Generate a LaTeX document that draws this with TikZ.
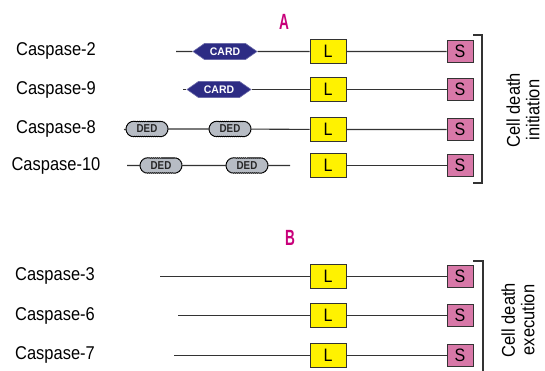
\documentclass[tikz,border=0pt]{standalone}
\usepackage{fontspec}
\setmainfont[FakeStretch=0.89]{Liberation Sans}
\newfontfamily\titlefont[FakeStretch=0.62,UprightFont={* Bold}]{Liberation Sans}
\newfontfamily\cardfont[FakeStretch=0.95,UprightFont={* Bold}]{Liberation Sans}
\newfontfamily\dedfont[FakeStretch=0.85,UprightFont={* Bold}]{Liberation Sans}
\usetikzlibrary{shapes.symbols,shapes.misc,decorations.pathmorphing}
\definecolor{lineg}{HTML}{333333}
\definecolor{lyel}{HTML}{FFF200}
\definecolor{spink}{HTML}{D878A8}
\definecolor{cardblue}{HTML}{2D2C84}
\definecolor{dedgrey}{HTML}{B7BCC4}
\definecolor{magen}{HTML}{C8007A}
\tikzset{
  lbox/.style={draw=lineg, line width=1pt, fill=lyel, minimum width=36pt, minimum height=24pt, inner sep=0pt, font=\fontsize{18}{18}\selectfont},
  sbox/.style={draw=lineg, line width=1pt, fill=spink, minimum width=26pt, minimum height=22pt, inner sep=0pt, font=\fontsize{18}{18}\selectfont},
  card/.style={signal, signal to=west and east, signal pointer angle=70, fill=cardblue, draw=cardblue!70!white, line width=0.6pt, minimum width=64pt, minimum height=16pt, inner sep=0pt, text=white, font=\cardfont\fontsize{11}{11}\selectfont},
  ded/.style={rounded rectangle, fill=dedgrey, draw=black, line width=0.9pt, minimum width=41pt, minimum height=14.5pt, inner sep=0pt, text=black!85, font=\dedfont\fontsize{11.5}{11.5}\selectfont, decorate, decoration={bumps, segment length=4pt, amplitude=0.5pt}},
  casp/.style={font=\fontsize{18.5}{18.5}\selectfont, inner sep=0pt},
  ttl/.style={font=\titlefont\fontsize{22}{22}\selectfont, text=magen, inner sep=0pt},
  side/.style={font=\fontsize{18.5}{19.5}\selectfont, align=center, rotate=90, inner sep=0pt},
  conn/.style={draw=lineg, line width=1.1pt},
  brk/.style={draw=lineg, line width=1.2pt}
}
\begin{document}
\begin{tikzpicture}[x=1pt,y=-1pt]
\useasboundingbox (0,0) rectangle (545,371);
% titles
\node[ttl] (tA) at (284,22) {A};
\node[ttl] (tB) at (290,238) {B};
% labels
\node[casp] (c2) at (56,51) {Caspase-2};
\node[casp] (c9) at (56,89.5) {Caspase-9};
\node[casp] (c8) at (56,129) {Caspase-8};
\node[casp] (c10) at (56,165.5) {Caspase-10};
\node[casp] (c3) at (55,276) {Caspase-3};
\node[casp] (c6) at (55,315.5) {Caspase-6};
\node[casp] (c7) at (55,355) {Caspase-7};
% start coordinates
\coordinate (s1) at (176,51.5);
\coordinate (s2) at (183,89.5);
\coordinate (s3) at (124,129.5);
\coordinate (s4) at (127,165.5);
\coordinate (e4) at (290,165.5);
\coordinate (s5) at (160,276.5);
\coordinate (s6) at (178,315.5);
\coordinate (s7) at (174,355.5);
% domain nodes
\node[card] (card1) at (225,51.5) {CARD};
\node[card] (card2) at (219,89.5) {CARD};
\node[ded] (d31) at (147,129) {DED};
\node[ded] (d32) at (230,129) {DED};
\node[ded] (d41) at (161,165.5) {DED};
\node[ded] (d42) at (247,165.5) {DED};
% L and S
\foreach \n/\y in {1/51.5,2/89.5,3/129.5,4/165.5,5/276.5,6/315.5,7/355.5}{
  \node[lbox] (L\n) at (328,\y) {L};
  \node[sbox] (S\n) at (460,\y) {S};
}
% connectors
\draw[conn] (s1) -- (card1) -- (L1) -- (S1);
\draw[conn] (s2) -- (card2) -- (L2) -- (S2);
\draw[conn] (s3) -- (d31) -- (d32) -- (L3) -- (S3);
\draw[conn] (s4) -- (d41) -- (d42) -- (e4);
\draw[conn] (L4) -- (S4);
\draw[conn] (s5) -- (L5) -- (S5);
\draw[conn] (s6) -- (L6) -- (S6);
\draw[conn] (s7) -- (L7) -- (S7);
% brackets
\coordinate (bA1) at (473,35);
\coordinate (bA2) at (482,35);
\coordinate (bA3) at (482,183);
\coordinate (bA4) at (473,183);
\draw[brk] (bA1) -- (bA2) -- (bA3) -- (bA4);
\coordinate (bB1) at (473,261);
\coordinate (bB2) at (483,261);
\coordinate (bB3) at (483,371);
\draw[brk] (bB1) -- (bB2) -- (bB3);
% side texts
\node[side] (ini) at (523,110) {Cell death\\initiation};
\node[side] (exe) at (518,320) {Cell death\\execution};
\end{tikzpicture}
\end{document}
